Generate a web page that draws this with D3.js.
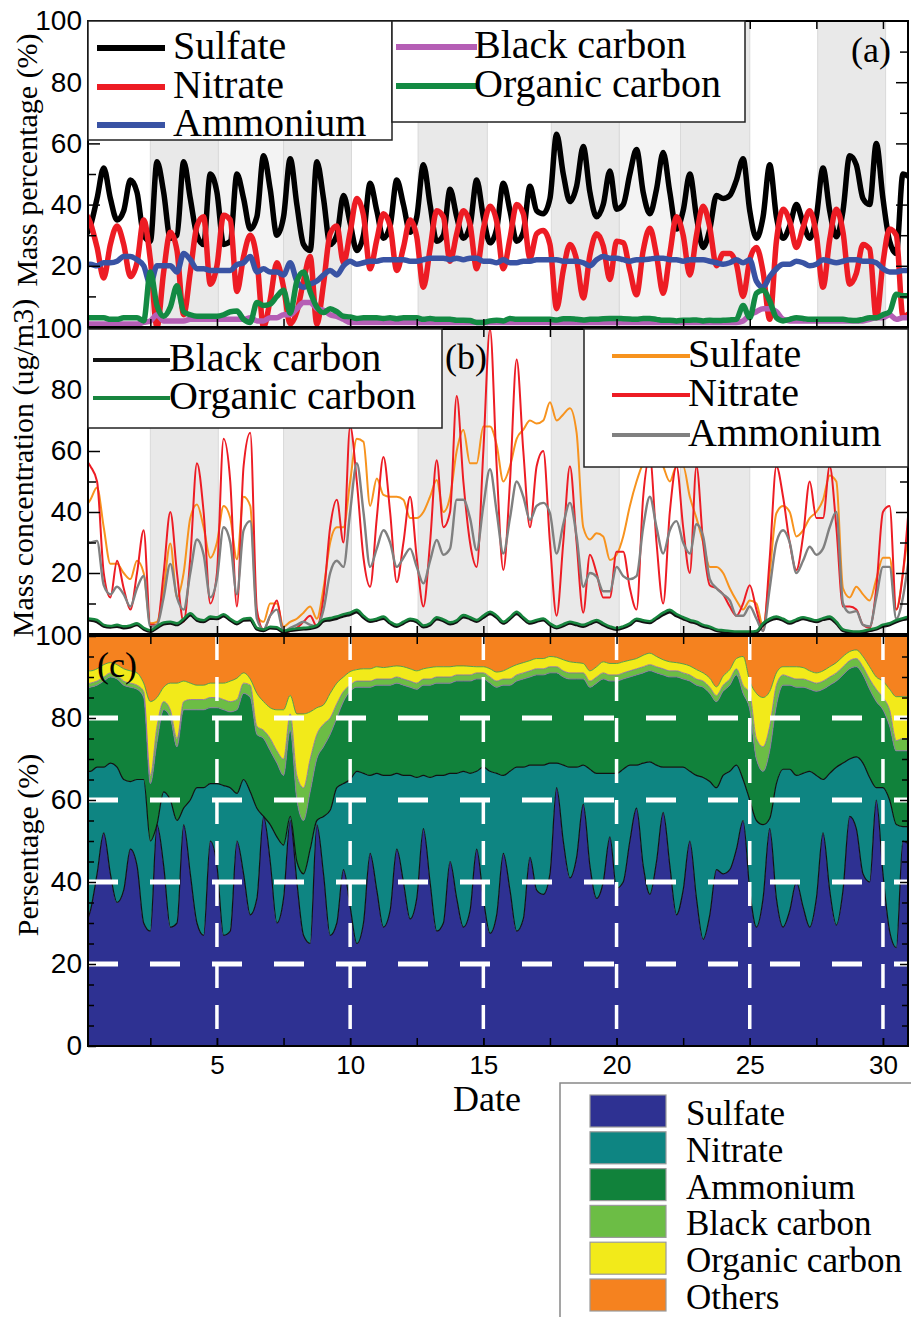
<!DOCTYPE html>
<html>
<head>
<meta charset="utf-8">
<script src="https://cdn.jsdelivr.net/npm/d3@7"></script>
<style>
  body { margin: 0; background: #fff; }
  svg { display: block; }
</style>
</head>
<body>
<svg id="chart"></svg>
<script>
// 6-hourly time axis, day of month
const days = d3.range(0, 31.001, 0.25);

// ---- panel (c) / (a): cumulative mass shares (%)
const sulfateShare = [
  29,33,42,52, 42,35,38,48,   44,30,28,54, 44,29,30,54,
  42,30,27,50, 44,27,28,50,   42,32,36,56, 45,30,36,55,
  40,27,25,54, 42,27,30,43,   34,25,30,47, 38,29,33,48,
  40,31,36,53, 40,28,30,45,   36,29,33,48, 36,27.5,32,47,
  38,28,31,46, 38,37,42,63,   50,41,46,59, 44,36,40,51,
  38.5,40,50,58, 44,37,45,57, 44,32,38,50, 36,26,32,43,
  42,43,48,55, 38,29,36,53,   36,29,33,40, 34,29,36,52,
  38,29.5,38,56, 53,42,40,60, 42,28,24,50, 49
];
const nitrateTop = [
  67,67,68,68, 69,68,65,64.5,     65,65,50,54, 62,60,55,58,
  60,63,63,64, 64,63.5,63,61.6,   65,62,58,56, 54,51,49,56,
  45,42,48,55, 56,57.5,63,64,     65,67,66.5,66, 66.5,66,66,66.5,
  66,66,65.5,66, 65.5,66,66,66.5, 66.5,67,66.5,67, 68,67,66.5,66,
  67,68,68,68.5, 68.5,68.5,69,69, 68.5,68,68,68.5, 67.5,66.5,66.5,66.5,
  66.5,67.5,68.5,68.5, 69,69.3,68.5,68, 68,68,68,67, 66,65.5,64.5,63,
  66,67,68.5,65, 60,55,54,55.5,   64,67.5,67.5,66, 66.5,67,66,65,
  66.5,68,69,70, 70.5,69,65.5,63, 63,60,54,53.5, 53.5
];
const ammoniumTop = [
  87,87.5,88,89, 90,89.5,88,87.5,     87,85,64,74, 82,80,73,82,
  82,82,82,82.5, 82.5,82,81.5,82,     86,85,76,75, 72,69,66,77,
  60,55,62,70, 73,76,80,84,           86.5,87.5,87.5,87.5, 88,88,88,88.5,
  88,87.5,87,88, 88,88.5,88.5,88.5,   89,89,89,89.5, 89.5,88.5,87.5,88,
  88,89,89.5,90, 90.5,90.5,91,91,     90,89.5,89.5,89.5, 87.5,88.5,89.5,89,
  89,89.5,90,90.5, 91,91.5,91,90.5,   90,90,89.5,89, 88,87.5,86,84,
  86.5,88,90.5,86, 82,70,67,72,       83,88,88,87.5, 87.5,87,86.5,87,
  88,89,90.5,92, 92.5,90.5,87,84,     82,78,72,72, 72
];
const bcTop = [
  88,88.5,89,90, 91,90.5,89,88.5,     88,86.5,66,78, 84,82,75,84,
  84.5,84.5,84.5,85, 85,84.5,84,84.5, 88.5,88,78,77, 75,72,70,81,
  66,63,70,76, 78.5,80,83.5,86.5,     88,89,89,89, 89.5,89.5,89.5,90,
  89.5,89,88.5,89.5, 89.5,90,90,90,   90.5,90.5,90.5,91, 91,90,89,89.5,
  89.5,90.5,91,91.5, 92,92,92.5,92.5, 91.5,91,91,91, 89,90,91,90.5,
  90.5,91,91.5,92, 92.5,93,92.5,92,   91.5,91.5,91,90.5, 89.5,89,87.5,85.5,
  88,89.5,92,88, 86,75,73,78,         88,90.5,90,89.5, 89.5,89,88.5,89,
  90,91,92.5,94, 94.5,92.5,89.5,87,   85,82,74.5,75, 75
];
const ocTop = [
  91.5,91.5,92,93, 93.5,93,92,91.5,     91,88.5,84,85, 87.5,88.5,88.5,89,
  88.5,88,88,88.5, 88.5,88.5,89,89.7,   91,89.5,86,84, 82.5,82,82,85.5,
  81,81,81.5,82.5, 83.2,86,88.5,90,     91.3,91.8,92,92, 92.5,92.3,92.5,92.7,
  92.5,92,91.5,92, 92.3,92.5,92.5,92.5, 92.7,92.7,92.6,92.5, 92.5,92,91.2,91.5,
  92.3,93,93.5,94, 94.5,94.5,95,94.8,   94.2,93.7,93.5,93.3, 91.5,92.5,93.7,93.3,
  93.3,93.7,94.1,94.5, 95.3,95.8,95,94.2, 93.7,93.5,93.2,92.7, 91.8,91,89.7,87.6,
  90.2,91.8,94.5,95, 89,86,85,86.5,     91,92.5,92.5,92.5, 92.3,91.5,91,91.5,
  92.5,93.5,95,96.2, 96.6,95,92.5,90,   89,87,85.2,85.2, 85.2
];

// ---- panel (b): mass concentrations (ug/m3)
const sulfateConc = [
  41,44,48,35, 23,23,20,18,     24,20,3.5,4, 15,29.7,12,20,
  38,42.5,35,25, 30,42,38,24.5, 45,42,6,4, 10,10,2.4,4,
  5,7,9,5, 15,30,35,35,         50,64,63,42, 51,45.6,45,45,
  44,38,38,40, 45,50.5,40,45,   60,66.9,56,56, 68,68,62,50,
  55,64,67,70, 69,70,76,70,     72,74,66,35, 31,33,32,24.3,
  26,32,42,50, 56,58,60,55,     50,55,55,45, 38,30,22,22,
  20,15,11,8, 11,10,2.4,20,     39.6,42,40,32, 34,38,40,44,
  52,50,15,12, 15.5,13,11,18,   25,25,8,20, 38
];
const nitrateConc = [
  58,55,50,20, 12,24,15,8,      20,34,3,3, 20,40,20,4,
  25,56,40,10, 20,64,50,9,      55,66,8,1.5, 6,11,0.5,1,
  2,4,6,2.5, 12,35,44,30,       68,50,25,15.5, 38,58,40,17,
  30,45,25,9, 30,57,35,40,      78,50,30,22, 60,100,55,21,
  50,90,60,35, 55,60,30,6,      30,55,30,7, 26,20,12,12,
  27,27,15,8, 45,58,30,10,      40,55,35,20, 55,30,16,15,
  13,9,6,10, 16,8,1,25,         55,45,30,21, 32,50,38,38,
  55,35,9,9, 8,3,2,15,          40,42,8,20, 45
];
const ammoniumConc = [
  31,30,30.5,16, 13,15.5,13,9,    15,19,2.4,3, 12,23,12,8,
  20,31,26,12, 18,35,30,13,       34,37,5,1.5, 6,8,0.8,2,
  3,4,3,2.5, 8,20,24,22,          40,56,40,22, 28,34,30,22,
  25,28,22,16.6, 24,30.8,26,28,   44,44,38,27.5, 42,54,40,26.4,
  38,50,45,37.4, 42,43,39.6,26.4, 36,43,32,15.5, 20,18.8,14,14,
  22,19,18,19, 35,45,35,26.4,     34,37,30,26.4, 36,32,18,15,
  13,11,6,6, 9,5,1,15,            30,34,30,20, 24,28.6,26,28,
  35,40,10,7, 7.5,3,2.5,12,       22,22,5,12, 27
];
const bcConc = [
  4.6,4.5,4,2.5, 2.2,2.5,2,2.3,   3,1.6,0.8,2, 3.3,3.5,3,4.4,
  6.2,4.5,4,5.1, 5,5.9,4.5,3.3,   4.5,4.6,1.6,1.1, 2,1.8,0.6,1.1,
  1.4,1.6,1.8,2.3, 4.2,4.6,5.1,5.9, 6.4,7.2,5.4,4.1, 4.5,5.1,3.5,2.5,
  3.5,4.5,4,2.3, 3,4.9,4.3,3.3,   4,5.6,5,4.1, 5.4,6.6,5.4,3.5,
  5,6.6,5,3.5, 4.1,4.6,3,2,       2.7,3.5,3,2.5, 3.3,4.1,3,2,
  1.5,2,3,4.5, 4,3.7,5,6.3,       7.2,5.9,5,4.1, 3.5,2.5,2,1.1,
  0.8,0.6,0.5,0.5, 0.5,0.6,3,4.5, 5.1,4.5,3.5,4.3, 5,4.5,4,4.7,
  5.1,3.5,1.1,0.6, 0.5,0.6,1.1,1.6, 2.5,3,4,4.7, 5.1
];
const ocConc = [
  5.1,5,4.6,3, 2.6,3,2.5,2.8,     3.5,2,1.2,2.5, 3.8,4,3.5,5,
  6.8,5,4.5,5.7, 5.5,6.5,5,3.8,   5,5.2,2,1.5, 2.4,2.2,1,1.5,
  1.8,2,2.2,2.8, 4.8,5.2,5.7,6.5, 7,7.9,6,4.6, 5,5.7,4,3,
  4,5,4.5,2.8, 3.5,5.5,4.8,3.8,   4.5,6.2,5.5,4.6, 6,7.3,6,4,
  5.5,7.3,5.5,4, 4.6,5.1,3.5,2.4, 3.2,4,3.5,3, 3.8,4.6,3.5,2.5,
  1.9,2.5,3.5,5, 4.5,4.2,5.5,7,   7.9,6.5,5.5,4.6, 4,3,2.4,1.5,
  1.2,1,0.8,0.8, 0.8,1,3.5,5,     5.7,5,4,4.8, 5.5,5,4.5,5.2,
  5.7,4,1.5,1, 0.8,1,1.5,2,       3,3.5,4.5,5.2, 5.7
];

// shaded day ranges in (a) and (b)
const bandStart = [2.5, 7.5, 12.55, 17.55, 22.4, 27.55];
const bandEnd = [5.05, 10.05, 15.15, 20.1, 25.0, 30.1];
const lightStart = [5.05, 20.1];
const lightEnd = [7.5, 22.4];

const dateTicks = [5, 10, 15, 20, 25, 30];
const dateMinor = [2.5, 5, 7.5, 10, 12.5, 15, 17.5, 20, 22.5, 25, 27.5, 30];
const pctGrid = [20, 40, 60, 80];

const keys = ["sulfate", "nitrate", "ammonium", "bc", "oc", "others"];
const names = ["Sulfate", "Nitrate", "Ammonium", "Black carbon", "Organic carbon", "Others"];

const rows = days.map(function (t, i) {
  return {
    t: t,
    sulfate: sulfateShare[i],
    nitrate: nitrateTop[i] - sulfateShare[i],
    ammonium: ammoniumTop[i] - nitrateTop[i],
    bc: bcTop[i] - ammoniumTop[i],
    oc: ocTop[i] - bcTop[i],
    others: 100 - ocTop[i],
  };
});

const W = 911, H = 1317;
const left = 88, right = 908;
const svg = d3.select("#chart").attr("width", W).attr("height", H);

const serif = '"Liberation Serif", "Times New Roman", serif';
const sans = '"Liberation Sans", Arial, sans-serif';

const x = d3.scaleLinear().domain([0.16, 30.94]).range([left, right]);
const yA = d3.scaleLinear().domain([0, 100]).range([327, 21]);
const yB = d3.scaleLinear().domain([0, 100]).range([634, 329]);
const yC = d3.scaleLinear().domain([0, 100]).range([1046, 636]);

function clip(id, y) {
  svg.append("clipPath").attr("id", id)
    .append("rect")
    .attr("x", left).attr("y", y.range()[1])
    .attr("width", right - left).attr("height", y.range()[0] - y.range()[1]);
}
clip("clipA", yA);
clip("clipB", yB);
clip("clipC", yC);

function bands(g, y, starts, ends, fill, stroke) {
  g.selectAll(null)
    .data(starts)
    .enter()
    .append("rect")
    .attr("x", function (d) { return x(d); })
    .attr("width", function (d, i) { return x(ends[i]) - x(d); })
    .attr("y", y.range()[1])
    .attr("height", y.range()[0] - y.range()[1])
    .attr("fill", fill)
    .attr("stroke", stroke)
    .attr("stroke-width", 1);
}

function drawLine(g, y, values, color, width) {
  const line = d3.line()
    .x(function (d, i) { return x(days[i]); })
    .y(function (d) { return y(d); })
    .curve(d3.curveMonotoneX);
  g.append("path")
    .attr("d", line(values))
    .attr("fill", "none")
    .attr("stroke", color)
    .attr("stroke-width", width)
    .attr("stroke-linejoin", "round");
}

// ---------- panel (a)
const gA = svg.append("g").attr("clip-path", "url(#clipA)");
bands(gA, yA, lightStart, lightEnd, "#f3f3f3", "#e2e2e2");
bands(gA, yA, bandStart, bandEnd, "#e9e9e9", "#d9d9d9");
const aSeries = [
  { key: "sulfate", color: "#000000" },
  { key: "nitrate", color: "#ed1c24" },
  { key: "ammonium", color: "#3953a4" },
  { key: "bc", color: "#b55eb5" },
  { key: "oc", color: "#138a43" },
];
aSeries.forEach(function (s) {
  drawLine(gA, yA, rows.map(function (r) { return r[s.key]; }), s.color, 5.5);
});

// ---------- panel (b)
const gB = svg.append("g").attr("clip-path", "url(#clipB)");
bands(gB, yB, bandStart, bandEnd, "#e9e9e9", "#d9d9d9");
drawLine(gB, yB, sulfateConc, "#f7931e", 2);
drawLine(gB, yB, nitrateConc, "#ed1c24", 2);
drawLine(gB, yB, ammoniumConc, "#808080", 2.4);
drawLine(gB, yB, bcConc, "#111111", 3);
drawLine(gB, yB, ocConc, "#17853e", 2.6);

// ---------- panel (c)
const stackColors = {
  sulfate: "#2e3192",
  nitrate: "#0e8582",
  ammonium: "#11823b",
  bc: "#6cbd45",
  oc: "#f2ea1a",
  others: "#f5821f",
};
const edgeColors = {
  sulfate: "#111111",
  nitrate: "#111111",
  ammonium: "#8a64b0",
  bc: "#8a64b0",
  oc: "#2f9a45",
};
const stacked = d3.stack().keys(keys)(rows);
const gC = svg.append("g").attr("clip-path", "url(#clipC)");
const area = d3.area()
  .x(function (d) { return x(d.data.t); })
  .y0(function (d) { return yC(d[0]); })
  .y1(function (d) { return yC(d[1]); })
  .curve(d3.curveMonotoneX);
gC.selectAll(".layer")
  .data(stacked)
  .enter()
  .append("path")
  .attr("class", "layer")
  .attr("d", area)
  .attr("fill", function (d) { return stackColors[d.key]; });
const edge = d3.line()
  .x(function (d) { return x(d.data.t); })
  .y(function (d) { return yC(d[1]); })
  .curve(d3.curveMonotoneX);
gC.selectAll(".edge")
  .data(stacked.filter(function (d) { return d.key !== "others"; }))
  .enter()
  .append("path")
  .attr("class", "edge")
  .attr("d", edge)
  .attr("fill", "none")
  .attr("stroke", function (d) { return edgeColors[d.key]; })
  .attr("stroke-width", function (d) { return d.key === "sulfate" || d.key === "nitrate" ? 1.2 : 0.8; });

// white dashed grid
gC.selectAll(".hgrid")
  .data(pctGrid)
  .enter()
  .append("line")
  .attr("x1", left).attr("x2", right)
  .attr("y1", function (d) { return yC(d); })
  .attr("y2", function (d) { return yC(d); })
  .attr("stroke", "#fff")
  .attr("stroke-width", 5)
  .attr("stroke-dasharray", "30,32");
gC.selectAll(".vgrid")
  .data(dateTicks)
  .enter()
  .append("line")
  .attr("x1", function (d) { return x(d); })
  .attr("x2", function (d) { return x(d); })
  .attr("y1", yC.range()[1]).attr("y2", yC.range()[0])
  .attr("stroke", "#fff")
  .attr("stroke-width", 3.5)
  .attr("stroke-dasharray", "24,17");

// ---------- frames and axes
function styleAxis(g, size) {
  g.select(".domain").remove();
  g.selectAll(".tick line").attr("stroke", "#000").attr("stroke-width", 1.5);
  g.selectAll(".tick text")
    .attr("font-family", sans)
    .attr("font-size", size)
    .attr("fill", "#000");
}

function frame(y, majorVals, minorVals, majorLen, minorLen, labelVals, xLabels) {
  const top = y.range()[1], bottom = y.range()[0];
  const gl = svg.append("g").attr("transform", "translate(" + left + ",0)")
    .call(d3.axisLeft(y).tickValues(labelVals).tickSize(-majorLen).tickPadding(6));
  styleAxis(gl, 28);
  const gm = svg.append("g").attr("transform", "translate(" + left + ",0)")
    .call(d3.axisLeft(y).tickValues(minorVals).tickSize(-minorLen).tickFormat(""));
  styleAxis(gm, 1);
  const gr = svg.append("g").attr("transform", "translate(" + right + ",0)")
    .call(d3.axisRight(y).tickValues(majorVals).tickSize(-majorLen).tickFormat(""));
  styleAxis(gr, 1);
  const grm = svg.append("g").attr("transform", "translate(" + right + ",0)")
    .call(d3.axisRight(y).tickValues(minorVals).tickSize(-minorLen).tickFormat(""));
  styleAxis(grm, 1);
  const gt = svg.append("g").attr("transform", "translate(0," + top + ")")
    .call(d3.axisTop(x).tickValues(dateMinor).tickSize(-8).tickFormat(""));
  styleAxis(gt, 1);
  const gb = svg.append("g").attr("transform", "translate(0," + bottom + ")")
    .call(d3.axisBottom(x).tickValues(dateMinor).tickSize(-8).tickFormat(""));
  styleAxis(gb, 1);
  if (xLabels) {
    const gx = svg.append("g").attr("transform", "translate(0," + bottom + ")")
      .call(d3.axisBottom(x).tickValues(dateTicks).tickSize(-8).tickPadding(10));
    styleAxis(gx, 26);
  }
  svg.append("rect")
    .attr("x", left).attr("y", top)
    .attr("width", right - left).attr("height", bottom - top)
    .attr("fill", "none").attr("stroke", "#000").attr("stroke-width", 2);
}

frame(yA, [20, 40, 60, 80], [10, 30, 50, 70, 90], 12, 8, [20, 40, 60, 80, 100], false);
frame(yB, [20, 40, 60, 80], [10, 30, 50, 70, 90], 12, 8, [20, 40, 60, 80, 100], false);
frame(yC, [20, 40, 60, 80], [5, 10, 15, 25, 30, 35, 45, 50, 55, 65, 70, 75, 85, 90, 95], 8, 6,
  [0, 20, 40, 60, 80, 100], true);

// ---------- legends
function legendBox(bx, by, bw, bh, items, lineX1, lineX2, textX, rowYs, size, lineW) {
  const g = svg.append("g");
  g.append("rect")
    .attr("x", bx).attr("y", by).attr("width", bw).attr("height", bh)
    .attr("fill", "#fff").attr("stroke", "#222").attr("stroke-width", 1.5);
  items.forEach(function (it, i) {
    g.append("line")
      .attr("x1", lineX1).attr("x2", lineX2)
      .attr("y1", rowYs[i]).attr("y2", rowYs[i])
      .attr("stroke", it.color).attr("stroke-width", lineW);
    g.append("text")
      .attr("x", textX).attr("y", rowYs[i] + 11)
      .attr("font-family", serif).attr("font-size", size)
      .text(it.name);
  });
}

legendBox(88, 21, 304, 119, [
  { name: "Sulfate", color: "#000000" },
  { name: "Nitrate", color: "#ed1c24" },
  { name: "Ammonium", color: "#3953a4" },
], 97, 165, 173, [48, 87, 125], 40, 6);
legendBox(392, 21, 353, 101, [
  { name: "Black carbon", color: "#b55eb5" },
  { name: "Organic carbon", color: "#138a43" },
], 396, 477, 474, [47, 86], 40, 6);

legendBox(88, 329, 354, 99, [
  { name: "Black carbon", color: "#111111" },
  { name: "Organic carbon", color: "#17853e" },
], 93, 170, 169, [360, 398], 40, 4);
legendBox(584, 329, 324, 138, [
  { name: "Sulfate", color: "#f7931e" },
  { name: "Nitrate", color: "#ed1c24" },
  { name: "Ammonium", color: "#808080" },
], 612, 690, 688, [356, 395, 435], 40, 4);

// panel tags
svg.append("text").attr("x", 851).attr("y", 62)
  .attr("font-family", serif).attr("font-size", 36).text("(a)");
svg.append("text").attr("x", 445).attr("y", 369)
  .attr("font-family", serif).attr("font-size", 36).text("(b)");
svg.append("text").attr("x", 97).attr("y", 677)
  .attr("font-family", serif).attr("font-size", 36).text("(c)");

// axis titles
function yTitle(tx, ty, label) {
  svg.append("text")
    .attr("transform", "translate(" + tx + "," + ty + ") rotate(-90)")
    .attr("text-anchor", "middle")
    .attr("font-family", serif).attr("font-size", 30)
    .text(label);
}
yTitle(37, 160, "Mass percentage (%)");
yTitle(33, 468, "Mass concentration (ug/m3)");
yTitle(38, 845, "Persentage (%)");
svg.append("text")
  .attr("x", 487).attr("y", 1111)
  .attr("text-anchor", "middle")
  .attr("font-family", serif).attr("font-size", 36)
  .text("Date");

// bottom legend for the stacked panel
const legC = svg.append("g");
legC.append("rect")
  .attr("x", 560).attr("y", 1083).attr("width", 360).attr("height", 260)
  .attr("fill", "#fff").attr("stroke", "#888").attr("stroke-width", 1.5);
legC.selectAll(".sw")
  .data(keys)
  .enter()
  .append("rect")
  .attr("x", 590)
  .attr("y", function (d, i) { return 1095 + i * 36.8; })
  .attr("width", 76).attr("height", 32)
  .attr("fill", function (d) { return stackColors[d]; })
  .attr("stroke", "#9a9a9a").attr("stroke-width", 1.2);
legC.selectAll(".lab")
  .data(names)
  .enter()
  .append("text")
  .attr("x", 686)
  .attr("y", function (d, i) { return 1125 + i * 36.8; })
  .attr("font-family", serif).attr("font-size", 35)
  .text(function (d) { return d; });
</script>
</body>
</html>
